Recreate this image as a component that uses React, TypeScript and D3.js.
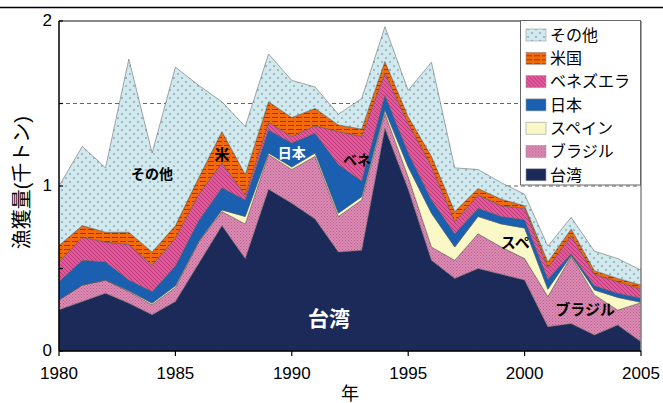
import React from 'react';
import * as d3 from 'd3';

// 年ごとの漁獲量（千トン）
const years = d3.range(1980, 2006);
const taiwan = [0.25, 0.30, 0.35, 0.29, 0.22, 0.30, 0.53, 0.76, 0.56, 0.98, 0.895, 0.80, 0.60, 0.61, 1.35, 0.98, 0.55, 0.44, 0.50, 0.465, 0.43, 0.147, 0.166, 0.097, 0.158, 0.056];
const brazil = [0.06, 0.10, 0.08, 0.07, 0.06, 0.085, 0.13, 0.085, 0.21, 0.21, 0.205, 0.38, 0.215, 0.305, 0.09, 0.075, 0.08, 0.11, 0.21, 0.165, 0.13, 0.183, 0.408, 0.243, 0.09, 0.237];
const spain = [0, 0, 0, 0.005, 0.01, 0.01, 0.005, 0.01, 0.045, 0.01, 0.015, 0.02, 0.02, 0.02, 0.02, 0.06, 0.205, 0.08, 0.105, 0.14, 0.185, 0.045, 0.006, 0.03, 0.077, 0.002];
const japan = [0.11, 0.15, 0.11, 0.065, 0.07, 0.12, 0.125, 0.135, 0.10, 0.14, 0.145, 0.12, 0.295, 0.095, 0.09, 0.085, 0.08, 0.08, 0.05, 0.045, 0.05, 0.06, 0.01, 0.025, 0.025, 0.025];
const venezuela = [0.12, 0.14, 0.12, 0.215, 0.16, 0.17, 0.16, 0.15, 0.03, 0.045, 0.04, 0.045, 0.20, 0.27, 0.135, 0.18, 0.205, 0.075, 0.08, 0.065, 0.07, 0.07, 0.11, 0.07, 0.07, 0.055];
const usa = [0.10, 0.07, 0.06, 0.075, 0.08, 0.075, 0.10, 0.19, 0.125, 0.125, 0.115, 0.105, 0.04, 0.045, 0.07, 0.04, 0.06, 0.06, 0.04, 0.04, 0.015, 0.035, 0.04, 0.022, 0.02, 0.025];
const others = [0.36, 0.48, 0.39, 1.05, 0.60, 0.96, 0.56, 0.18, 0.29, 0.29, 0.225, 0.13, 0.065, 0.185, 0.21, 0.16, 0.57, 0.265, 0.115, 0.10, 0.07, 0.095, 0.07, 0.118, 0.12, 0.09];

const seriesKeys = ['台湾', 'ブラジル', 'スペイン', '日本', 'ベネズエラ', '米国', 'その他'];
const seriesValues = [taiwan, brazil, spain, japan, venezuela, usa, others];
const xTicks = [1980, 1985, 1990, 1995, 2000, 2005];
const yTicks = [0, 1, 2];
const yMinorTicks = [0.5, 1.5];
const gridValues = [0.5, 1, 1.5];

const fills: Record<string, string> = {
  '台湾': '#1c2a5a',
  'ブラジル': 'url(#pBrazil)',
  'スペイン': '#fbf8c8',
  '日本': '#1a5fb0',
  'ベネズエラ': 'url(#pVen)',
  '米国': 'url(#pUsa)',
  'その他': 'url(#pDots)'
};

const FONT = '"Liberation Sans", Arial, "Noto Sans CJK JP", sans-serif';

const App = () => {
  const width = 663;
  const height = 403;
  const margin = { top: 21, right: 22, bottom: 52, left: 59 };

  const x = d3.scaleLinear().domain([1980, 2005]).range([margin.left, width - margin.right]);
  const y = d3.scaleLinear().domain([0, 2]).range([height - margin.bottom, margin.top]);

  const table = years.map((yr, i) => {
    const row: any = { year: yr };
    seriesKeys.forEach((k, j) => { row[k] = seriesValues[j][i]; });
    return row;
  });

  const stacked = d3.stack().keys(seriesKeys)(table);

  const area = d3.area<any>()
    .x(d => x(d.data.year))
    .y0(d => y(d[0]))
    .y1(d => y(d[1]));

  const x0 = margin.left;
  const x1 = width - margin.right;
  const yb = height - margin.bottom;

  const legendX = 520.5;
  const legendY = 20.5;
  const legendOrder = [...seriesKeys].reverse();

  return (
    <svg width={width} height={height} style={{ position: 'absolute', left: 0, top: 0, background: '#fff' }} fontFamily={FONT}>
      <defs>
        <pattern id="pDots" width="8" height="8" patternUnits="userSpaceOnUse">
          <rect width="8" height="8" fill="#cfe9ee" />
          <circle cx="2" cy="2" r="0.7" fill="#55606a" />
          <circle cx="6" cy="6" r="0.7" fill="#55606a" />
        </pattern>
        <pattern id="pUsa" width="8" height="4" patternUnits="userSpaceOnUse">
          <rect width="8" height="4" fill="#f26a0a" />
          <line x1="0" y1="1.5" x2="6" y2="1.5" stroke="#4a2000" strokeWidth="0.6" />
        </pattern>
        <pattern id="pVen" width="4" height="4" patternUnits="userSpaceOnUse">
          <rect width="4" height="4" fill="#e4579c" />
          <line x1="0" y1="0" x2="4" y2="4" stroke="#a52f68" strokeWidth="0.7" />
        </pattern>
        <pattern id="pBrazil" width="3" height="3" patternUnits="userSpaceOnUse">
          <rect width="3" height="3" fill="#dc8cb4" />
          <rect width="1" height="1" fill="#b85d8c" />
          <rect x="1.5" y="1.5" width="1" height="1" fill="#b85d8c" />
        </pattern>
      </defs>

      {/* top rule of page */}
      <line x1={0} x2={width} y1={7.5} y2={7.5} stroke="#000" strokeWidth={1.5} />

      {/* dashed gridlines */}
      {gridValues.map(v => (
        <line key={v} x1={x0} x2={x1} y1={y(v)} y2={y(v)} stroke="#666" strokeWidth={1} strokeDasharray="4,3" />
      ))}

      {/* stacked areas */}
      {stacked.map(s => (
        <path key={s.key} d={area(s as any) || ''} fill={fills[s.key]} stroke="#555" strokeWidth={0.5} />
      ))}

      {/* frame */}
      <line x1={x0} x2={x1} y1={margin.top} y2={margin.top} stroke="#888" strokeWidth={2} />
      <line x1={x1} x2={x1} y1={margin.top} y2={yb} stroke="#888" strokeWidth={1.5} />
      <line x1={x0} x2={x0} y1={margin.top} y2={yb} stroke="#000" strokeWidth={1.5} />
      <line x1={x0} x2={x1} y1={yb} y2={yb} stroke="#000" strokeWidth={1.5} />

      {/* y ticks */}
      {yTicks.concat(yMinorTicks).map(v => (
        <line key={'yt' + v} x1={x0} x2={x0 + 4} y1={y(v)} y2={y(v)} stroke="#000" strokeWidth={1.2} />
      ))}
      {yTicks.map(v => (
        <text key={'yl' + v} x={x0 - 7} y={y(v) - 1} dy="0.36em" textAnchor="end" fontSize={17}>{v}</text>
      ))}

      {/* x ticks */}
      {xTicks.map(t => (
        <g key={'xt' + t}>
          <line x1={x(t)} x2={x(t)} y1={yb} y2={yb + 5} stroke="#000" strokeWidth={1.2} />
          <text x={x(t)} y={yb + 28} textAnchor="middle" fontSize={17}>{t}</text>
        </g>
      ))}

      {/* axis titles */}
      <text x={x(1992.5)} y={400} textAnchor="middle" fontSize={18}>年</text>
      <text transform={`translate(22,${y(1.02)}) rotate(-90)`} textAnchor="middle" fontSize={20} dy="0.36em">漁獲量(千トン)</text>

      {/* in-chart labels */}
      <text x={x(1984)} y={y(1.07)} dy="0.36em" textAnchor="middle" fontSize={14} fontWeight="bold">その他</text>
      <text x={x(1987)} y={y(1.19)} dy="0.36em" textAnchor="middle" fontSize={15} fontWeight="bold">米</text>
      <text x={x(1990)} y={y(1.2)} dy="0.36em" textAnchor="middle" fontSize={14} fontWeight="bold" fill="#fff">日本</text>
      <text x={x(1992.8)} y={y(1.16)} dy="0.36em" textAnchor="middle" fontSize={14} fontWeight="bold">ベネ</text>
      <text x={x(1991.6)} y={y(0.2)} dy="0.36em" textAnchor="middle" fontSize={21} fontWeight="bold" fill="#fff">台湾</text>
      <text x={x(1999.6)} y={y(0.66)} dy="0.36em" textAnchor="middle" fontSize={15} fontWeight="bold">スペ</text>
      <text x={x(2002.6)} y={y(0.25)} dy="0.36em" textAnchor="middle" fontSize={15} fontWeight="bold">ブラジル</text>

      {/* legend */}
      <rect x={legendX} y={legendY} width={120} height={164.5} fill="#fff" stroke="#666" strokeWidth={1} />
      {legendOrder.map((k, i) => (
        <g key={'lg' + k} transform={`translate(${legendX + 5.5},${legendY + 14.5 + i * 23.3})`}>
          <rect x={0} y={-6} width={20} height={12} fill={fills[k]} stroke="#999" strokeWidth={0.6} />
          <text x={24} y={0} dy="0.36em" fontSize={16}>{k}</text>
        </g>
      ))}
    </svg>
  );
};

export default App;
